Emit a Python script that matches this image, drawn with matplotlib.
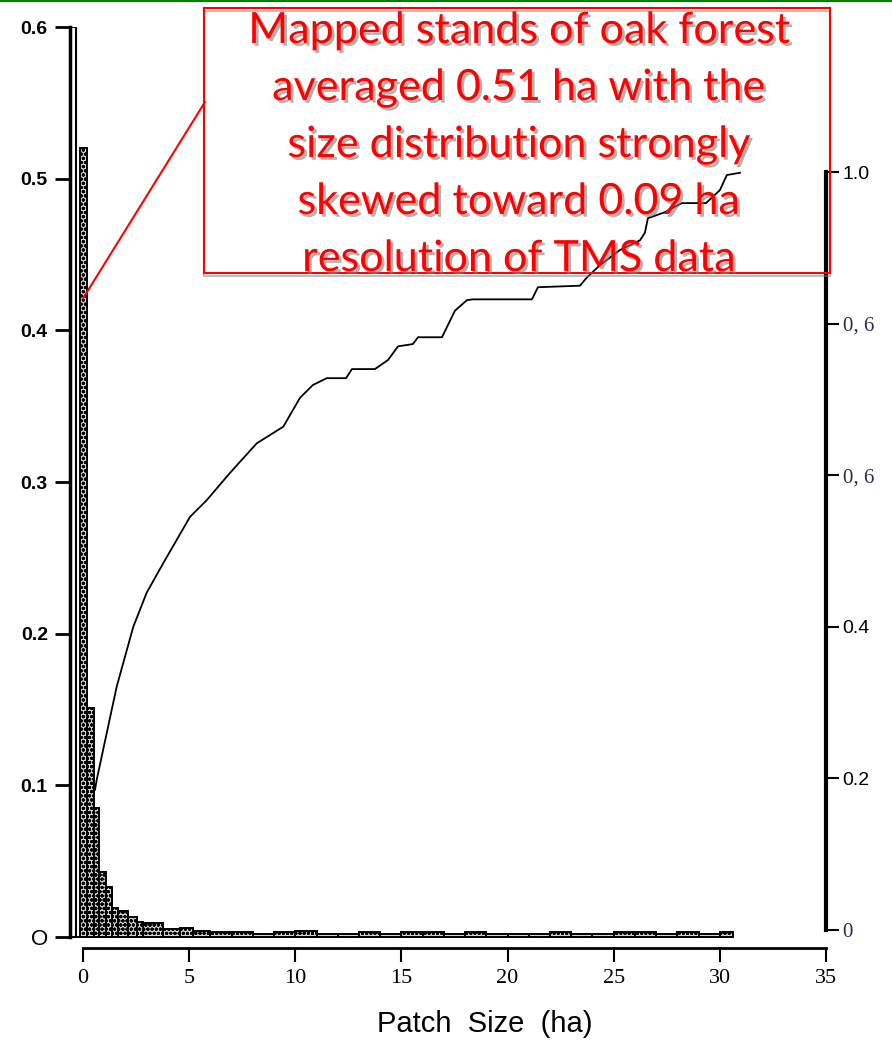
import numpy as np
import matplotlib
matplotlib.use("Agg")
import matplotlib.pyplot as plt
from matplotlib import patheffects as pe
from matplotlib.patches import Rectangle
from matplotlib.lines import Line2D
from matplotlib import font_manager as fm

# ---------------- data ----------------
# histogram of patch sizes (ha): bin edges and relative frequency
head_edges = [-0.61, -0.33, -0.14, 0.19, 0.52, 0.75, 1.08, 1.37, 1.65, 2.12,
              2.54, 2.83, 3.77, 4.57, 5.18]
head_freq = [0.60, 0.0, 0.52, 0.151, 0.085, 0.043, 0.033, 0.019, 0.017, 0.013,
             0.010, 0.009, 0.005, 0.006]
tail_edges = [6, 7, 8, 9, 10, 11, 12, 13, 14, 15, 16, 17, 18, 19, 20, 21, 22,
              23, 24, 25, 26, 27, 28, 29, 30, 30.6]
tail_freq = [0.004, 0.003, 0.003, 0.002, 0.003, 0.004, 0.002, 0.002, 0.003,
             0.002, 0.003, 0.003, 0.002, 0.003, 0.002, 0.002, 0.002, 0.003,
             0.002, 0.002, 0.003, 0.003, 0.002, 0.003, 0.002, 0.003]

# cumulative proportion curve
cum_x = [0.565, 0.645, 1.587, 2.369, 3.000, 3.782, 5.040, 5.827, 6.924, 8.182,
         9.435, 10.22, 10.83, 11.48, 12.39, 12.67, 13.75, 14.37, 14.84, 15.54,
         15.78, 16.91, 17.52, 18.09, 18.37, 21.15, 21.43, 23.41, 23.74, 24.35,
         25.29, 26.24, 26.47, 26.61, 27.41, 28.21, 29.35, 30.00, 30.33, 30.95]
cum_y = [0.185, 0.198, 0.321, 0.400, 0.445, 0.484, 0.545, 0.567, 0.603, 0.642,
         0.664, 0.702, 0.719, 0.728, 0.728, 0.740, 0.740, 0.752, 0.770, 0.773,
         0.782, 0.782, 0.817, 0.831, 0.832, 0.832, 0.848, 0.850, 0.861, 0.877,
         0.897, 0.910, 0.920, 0.939, 0.947, 0.959, 0.959, 0.976, 0.996, 0.999]

x_ticks = [0, 5, 10, 15, 20, 25, 30, 35]
x_ticklabels = ["0", "5", "10", "15", "20", "25", "30", "35"]
left_ticks = [0, 0.1, 0.2, 0.3, 0.4, 0.5, 0.6]
left_ticklabels = ["O", "0.1", "0.2", "0.3", "0.4", "0.5", "0.6"]
right_ticks = [0, 0.2, 0.4, 0.6, 0.8, 1.0]
right_ticklabels = ["0", "0.2", "0.4", "0, 6", "0, 6", "1.0"]
x_label = "Patch  Size  (ha)"
note_lines = ["Mapped stands of oak forest",
              "averaged 0.51 ha with the",
              "size distribution strongly",
              "skewed toward 0.09 ha",
              "resolution of TMS data"]

# ---------------- figure ----------------
W, H = 892, 1043
fig = plt.figure(figsize=(W / 100, H / 100), dpi=100)
fig.patch.set_facecolor("white")

def fx(px):
    return px / W

def fy(py):
    return 1 - py / H

available = {f.name for f in fm.fontManager.ttflist}
narrow = "Liberation Sans Narrow" if "Liberation Sans Narrow" in available else "Liberation Sans"

ax_l, ax_r, ax_t, ax_b = 70, 826, 27, 948
ax = fig.add_axes([fx(ax_l), fy(ax_b), (ax_r - ax_l) / W, (ax_b - ax_t) / H])
ax.set_facecolor("none")
ax.set_xlim(-0.612, 35)
ax.set_ylim(-0.00725, 0.6)

plt.rcParams["hatch.linewidth"] = 1.1
edges = np.array(head_edges + tail_edges)
freqs = np.array(head_freq + tail_freq)
bars = ax.bar(edges[:-1], freqs, width=np.diff(edges), align="edge",
              facecolor="#d8d8d8", edgecolor="black", linewidth=1.4,
              hatch="oooo", zorder=2)
bars[0].set_hatch(None)
bars[0].set_facecolor("white")
bars[0].set_linewidth(1.5)

for s in ["top", "right"]:
    ax.spines[s].set_visible(False)
ax.spines["left"].set_bounds(0, 0.6)
ax.spines["left"].set_linewidth(2.5)
ax.spines["bottom"].set_bounds(0, 35)
ax.spines["bottom"].set_linewidth(2.0)

ax.set_xticks(x_ticks)
ax.set_xticklabels(x_ticklabels, fontfamily="Liberation Serif", fontsize=16)
ax.tick_params(axis="x", direction="out", length=10, width=1.5, pad=5)
ax.set_yticks(left_ticks)
ax.set_yticklabels(left_ticklabels, fontfamily="Liberation Sans",
                   fontsize=14, fontweight="bold")
ax.tick_params(axis="y", direction="out", length=11, width=2, pad=5)
for lbl in ax.get_yticklabels():
    if lbl.get_text() == "O":
        lbl.set_fontweight("normal")
        lbl.set_fontsize(16)
ax.set_xlabel(x_label, fontfamily=narrow, fontsize=21)
ax.xaxis.set_label_coords((485 - ax_l) / (ax_r - ax_l), (ax_b - 1010) / (ax_b - ax_t))
ax.xaxis.label.set_va("top")

# cumulative on right axis
ax2 = ax.twinx()
ax2.set_ylim(-0.02375, 1.1913)
ax2.plot(cum_x, cum_y, color="black", linewidth=1.3, zorder=3)
for s in ["top", "left", "bottom"]:
    ax2.spines[s].set_visible(False)
ax2.spines["right"].set_bounds(0, 1.0)
ax2.spines["right"].set_linewidth(3)
ax2.set_yticks(right_ticks)
ax2.set_yticklabels(right_ticklabels, fontsize=14)
ax2.tick_params(axis="y", direction="out", length=9, width=1.5, pad=3)
for lbl in ax2.get_yticklabels():
    if "," in lbl.get_text() or lbl.get_text() == "0":
        lbl.set_fontfamily("Liberation Serif")
        lbl.set_fontsize(15)
        lbl.set_color("#2a2a55")
    else:
        lbl.set_fontfamily("Liberation Sans")

# ---------------- annotation ----------------
shadow = [pe.SimplePatchShadow(offset=(2, -2), shadow_rgbFace="gray", alpha=0.6),
          pe.Normal()]
box = Rectangle((fx(204), fy(273)), fx(830) - fx(204), fy(8) - fy(273),
                transform=fig.transFigure, facecolor="none",
                edgecolor="red", linewidth=1.5, zorder=5)
box.set_path_effects([pe.SimpleLineShadow(offset=(0, -2), shadow_color="gray",
                                          alpha=0.5), pe.Normal()])
fig.add_artist(box)

ax.annotate("", xy=(0, 0.421), xycoords="data",
            xytext=(fx(205), fy(102)), textcoords="figure fraction",
            arrowprops=dict(arrowstyle="-", color="red", linewidth=1.5,
                            shrinkA=0, shrinkB=0),
            annotation_clip=False, zorder=6)

for i, line in enumerate(note_lines):
    fig.text(fx(518), fy(43 + 57 * i), line, ha="center", va="baseline",
             fontfamily="Lato", fontsize=31, color="red",
             path_effects=shadow, zorder=7)

fig.add_artist(Line2D([0, 1], [fy(1), fy(1)], transform=fig.transFigure,
                      color="green", linewidth=1.5))

fig.savefig("out.png", dpi=100)
